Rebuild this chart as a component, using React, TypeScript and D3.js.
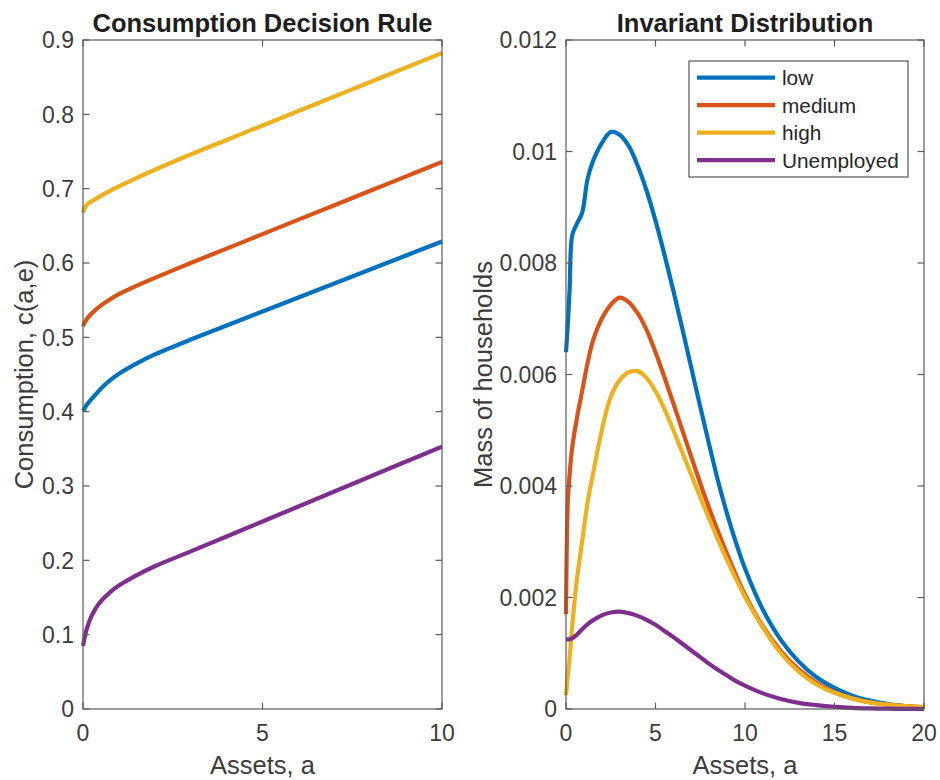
import React from "react";
import * as d3 from "d3";

const consAssets = [0, 0.05, 0.1, 0.2, 0.35, 0.5, 0.75, 1, 1.5, 2, 3, 4, 5, 6, 7, 8, 9, 10];
const consLow = [0.401, 0.405, 0.409, 0.415, 0.423, 0.431, 0.442, 0.451, 0.465, 0.477, 0.497, 0.5159, 0.5347, 0.5536, 0.5724, 0.5913, 0.6101, 0.629];
const consMedium = [0.515, 0.52, 0.524, 0.53, 0.537, 0.543, 0.551, 0.558, 0.5695, 0.58, 0.6, 0.6194, 0.6389, 0.6583, 0.6777, 0.6971, 0.7166, 0.736];
const consHigh = [0.668, 0.674, 0.678, 0.682, 0.686, 0.6905, 0.697, 0.703, 0.7145, 0.7255, 0.746, 0.7655, 0.785, 0.8045, 0.824, 0.8435, 0.863, 0.8825];
const consUnemployed = [0.085, 0.097, 0.107, 0.121, 0.135, 0.145, 0.157, 0.166, 0.18, 0.192, 0.212, 0.2321, 0.2523, 0.2724, 0.2926, 0.3127, 0.3329, 0.353];

const distAssets = [0, 0.1, 0.2, 0.35, 0.6, 0.9, 1.2, 1.5, 2, 2.5, 3, 3.5, 4, 4.5, 5, 5.5, 6, 6.5, 7, 7.5, 8, 8.5, 9, 9.5, 10, 11, 12, 13, 14, 15, 16, 17, 18, 19, 20];
const distLow = [0.0064, 0.0069, 0.0075, 0.0085, 0.0087, 0.0089, 0.0095, 0.00982, 0.01015, 0.01035, 0.0103, 0.0101, 0.00975, 0.0093, 0.00876, 0.00815, 0.0075, 0.00682, 0.00612, 0.00542, 0.00474, 0.00408, 0.0035, 0.00298, 0.00252, 0.00178, 0.00124, 0.00085, 0.00057, 0.00038, 0.00024, 0.00015, 0.00009, 0.00005, 0.00002];
const distMedium = [0.0017, 0.0037, 0.0042, 0.0047, 0.0052, 0.0057, 0.0062, 0.0066, 0.007, 0.00725, 0.00738, 0.0073, 0.0071, 0.0068, 0.0064, 0.00595, 0.00548, 0.005, 0.00452, 0.00405, 0.0036, 0.00318, 0.00278, 0.0024, 0.00205, 0.00148, 0.00104, 0.00071, 0.00047, 0.0003, 0.00019, 0.00012, 0.00008, 0.00005, 0.00003];
const distHigh = [0.00025, 0.0006, 0.0009, 0.0015, 0.0023, 0.003, 0.0037, 0.0042, 0.005, 0.0056, 0.0059, 0.00604, 0.00606, 0.00594, 0.0057, 0.00538, 0.005, 0.0046, 0.0042, 0.0038, 0.00341, 0.00303, 0.00267, 0.00233, 0.00201, 0.00146, 0.001, 0.00067, 0.00044, 0.00029, 0.00019, 0.00012, 0.00008, 0.00005, 0.00003];
const distUnemployed = [0.00125, 0.00125, 0.00125, 0.00127, 0.00133, 0.00143, 0.00152, 0.00159, 0.00168, 0.00173, 0.001745, 0.00172, 0.00167, 0.0016, 0.00151, 0.0014, 0.00129, 0.00117, 0.00105, 0.00093, 0.00081, 0.0007, 0.0006, 0.0005, 0.00042, 0.00028, 0.00018, 0.00011, 0.00007, 0.00004, 0.00002, 0.00001, 0.000005, 0.000002, 0];

const seriesNames = ["low", "medium", "high", "Unemployed"];
const seriesColors = ["#0072BD", "#D95319", "#EDB120", "#7E2F8E"];

const leftXTicks = [0, 5, 10];
const leftYTicks = [0, 0.1, 0.2, 0.3, 0.4, 0.5, 0.6, 0.7, 0.8, 0.9];
const rightXTicks = [0, 5, 10, 15, 20];
const rightYTicks = [0, 0.002, 0.004, 0.006, 0.008, 0.01, 0.012];

const FONT = "'Liberation Sans', Arial, Helvetica, sans-serif";
const AXIS_COLOR = "#5a5a5a";
const TEXT_COLOR = "#3c3c3c";

type PanelProps = {
  x0: number; x1: number; y0: number; y1: number;
  xDomain: [number, number]; yDomain: [number, number];
  xTicks: number[]; yTicks: number[];
  xs: number[]; ys: number[][];
  title: string; xLabel: string; yLabel: string; yLabelX: number;
  fmtY: (v: number) => string;
  legend?: boolean;
};

function Panel(p: PanelProps) {
  const x = d3.scaleLinear().domain(p.xDomain).range([p.x0, p.x1]);
  const y = d3.scaleLinear().domain(p.yDomain).range([p.y1, p.y0]);
  const line = d3
    .line<[number, number]>()
    .x((d) => x(d[0]))
    .y((d) => y(d[1]))
    .curve(d3.curveCatmullRom.alpha(0.5));
  const tl = 6.5;
  const cx = (p.x0 + p.x1) / 2;
  const cy = (p.y0 + p.y1) / 2;
  return (
    <g>
      {p.ys.map((s, i) => (
        <path
          key={i}
          d={line(p.xs.map((a, j) => [a, s[j]] as [number, number])) || ""}
          fill="none"
          stroke={seriesColors[i]}
          strokeWidth={4.2}
          strokeLinejoin="round"
          strokeLinecap="butt"
        />
      ))}
      <rect x={p.x0} y={p.y0} width={p.x1 - p.x0} height={p.y1 - p.y0} fill="none" stroke={AXIS_COLOR} strokeWidth={1.2} />
      {p.xTicks.map((t) => (
        <g key={"x" + t}>
          <line x1={x(t)} x2={x(t)} y1={p.y1} y2={p.y1 - tl} stroke={AXIS_COLOR} strokeWidth={1.2} />
          <line x1={x(t)} x2={x(t)} y1={p.y0} y2={p.y0 + tl} stroke={AXIS_COLOR} strokeWidth={1.2} />
          <text x={x(t)} y={741} textAnchor="middle" fontSize={23} fill={TEXT_COLOR} fontFamily={FONT}>
            {t}
          </text>
        </g>
      ))}
      {p.yTicks.map((t) => (
        <g key={"y" + t}>
          <line x1={p.x0} x2={p.x0 + tl} y1={y(t)} y2={y(t)} stroke={AXIS_COLOR} strokeWidth={1.2} />
          <line x1={p.x1} x2={p.x1 - tl} y1={y(t)} y2={y(t)} stroke={AXIS_COLOR} strokeWidth={1.2} />
          <text x={p.x0 - 9} y={y(t)} dy="0.36em" textAnchor="end" fontSize={23} fill={TEXT_COLOR} fontFamily={FONT}>
            {p.fmtY(t)}
          </text>
        </g>
      ))}
      <text x={cx} y={31.5} textAnchor="middle" fontSize={25.5} fontWeight="bold" fill="#1e1e1e" fontFamily={FONT}>
        {p.title}
      </text>
      <text x={cx} y={774} textAnchor="middle" fontSize={25.5} fill={TEXT_COLOR} fontFamily={FONT}>
        {p.xLabel}
      </text>
      <text
        transform={`translate(${p.yLabelX},${cy}) rotate(-90)`}
        textAnchor="middle"
        fontSize={25.5}
        fill={TEXT_COLOR}
        fontFamily={FONT}
      >
        {p.yLabel}
      </text>
      {p.legend && (
        <g>
          <rect x={689} y={61} width={219} height={116} fill="#ffffff" stroke="#333333" strokeWidth={1} />
          {seriesNames.map((n, i) => {
            const ry = 77.7 + i * 27.5;
            return (
              <g key={n}>
                <line x1={697} x2={775} y1={ry} y2={ry} stroke={seriesColors[i]} strokeWidth={4.2} />
                <text x={782} y={ry} dy="0.36em" fontSize={20.8} fill="#262626" fontFamily={FONT}>
                  {n}
                </text>
              </g>
            );
          })}
        </g>
      )}
    </g>
  );
}

export default function App() {
  const fmtLeft = (v: number) => d3.format(".1f")(v).replace(/^0\.0$/, "0");
  const fmtRight = (v: number) => (v === 0 ? "0" : String(+v.toFixed(3)));
  return (
    <svg width={940} height={780} style={{ position: "absolute", left: 0, top: 0, background: "#fff" }}>
      <rect width={940} height={780} fill="#ffffff" />
      <Panel
        x0={83} x1={442} y0={40} y1={709}
        xDomain={[0, 10]} yDomain={[0, 0.9]}
        xTicks={leftXTicks} yTicks={leftYTicks}
        xs={consAssets} ys={[consLow, consMedium, consHigh, consUnemployed]}
        title="Consumption Decision Rule" xLabel="Assets, a" yLabel="Consumption, c(a,e)" yLabelX={33}
        fmtY={fmtLeft}
      />
      <Panel
        x0={566} x1={924} y0={40} y1={709}
        xDomain={[0, 20]} yDomain={[0, 0.012]}
        xTicks={rightXTicks} yTicks={rightYTicks}
        xs={distAssets} ys={[distLow, distMedium, distHigh, distUnemployed]}
        title="Invariant Distribution" xLabel="Assets, a" yLabel="Mass of households" yLabelX={492}
        fmtY={fmtRight}
        legend
      />
    </svg>
  );
}
